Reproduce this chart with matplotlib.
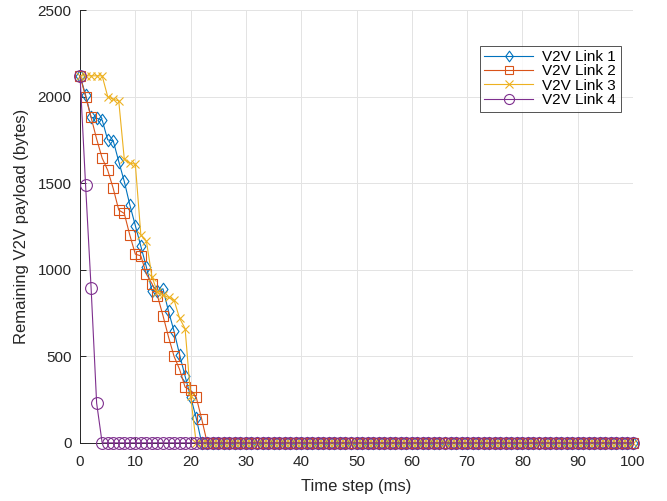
import numpy as np
import matplotlib
matplotlib.use("Agg")
import matplotlib.pyplot as plt
from matplotlib.path import Path

plt.rcParams['font.family'] = ['Liberation Sans', 'DejaVu Sans']

# Time axis (ms) and remaining payload per V2V link (bytes)
time_steps = list(range(0, 101))

link1_head = [2120, 2010, 1880, 1875, 1865, 1750, 1745, 1625, 1510, 1375,
              1255, 1135, 1015, 880, 875, 890, 760, 645, 510, 385,
              265, 145]
link2_head = [2120, 2000, 1880, 1755, 1645, 1575, 1470, 1345, 1325, 1200,
              1090, 1080, 975, 920, 850, 735, 612, 500, 425, 322,
              303, 265, 138]
link3_head = [2120, 2120, 2120, 2120, 2120, 2000, 1985, 1975, 1640, 1615,
              1610, 1200, 1165, 960, 870, 855, 840, 825, 720, 660,
              270]
link4_head = [2120, 1490, 895, 230]

def pad(head, n=101):
    return head + [0] * (n - len(head))

link1 = pad(link1_head)
link2 = pad(link2_head)
link3 = pad(link3_head)
link4 = pad(link4_head)

# Slightly narrow diamond, like the classic MATLAB marker
diamond = Path([(0, 1), (0.72, 0), (0, -1), (-0.72, 0), (0, 1)],
               [Path.MOVETO, Path.LINETO, Path.LINETO, Path.LINETO, Path.CLOSEPOLY])

series = [
    ("V2V Link 1", link1, "#0072BD", diamond, 9),
    ("V2V Link 2", link2, "#D95319", "s", 7),
    ("V2V Link 3", link3, "#EDB120", "x", 6),
    ("V2V Link 4", link4, "#7E2F8E", "o", 8.5),
]

fig = plt.figure(figsize=(6.67, 5.01), dpi=100)
ax = fig.add_axes([0.12, 0.116, 0.829, 0.864])

for name, vals, col, mk, ms in series:
    ax.plot(time_steps, vals, color=col, marker=mk, markersize=ms,
            markerfacecolor='none', markeredgecolor=col, markeredgewidth=0.8,
            linewidth=0.8, label=name, clip_on=False, zorder=3)

ax.set_xlim(0, 100)
ax.set_ylim(0, 2500)
ax.set_xticks(np.arange(0, 101, 10))
ax.set_yticks(np.arange(0, 2501, 500))
ax.grid(True, color='#e3e3e3', linewidth=0.7)
ax.set_axisbelow(True)
ax.spines['top'].set_visible(False)
ax.spines['right'].set_visible(False)
for side in ('left', 'bottom'):
    ax.spines[side].set_color('#262626')
    ax.spines[side].set_linewidth(0.7)
ax.tick_params(direction='in', length=4, width=0.7, colors='#262626',
               labelsize=11, top=False, right=False)
ax.tick_params(axis='x', pad=9)
ax.tick_params(axis='y', pad=6)

ax.set_xlabel("Time step (ms)", fontsize=12, color='#262626', labelpad=7)
ax.set_ylabel("Remaining V2V payload (bytes)", fontsize=12, color='#262626', labelpad=6)

leg = ax.legend(loc='upper right', bbox_to_anchor=(0.978, 0.918), fontsize=11,
                frameon=True, fancybox=False, handlelength=3.2,
                borderpad=0.3, labelspacing=0.02, handletextpad=0.6,
                borderaxespad=0.0, markerscale=0.85)
leg.get_frame().set_edgecolor('#262626')
leg.get_frame().set_linewidth(0.7)
leg.set_zorder(5)

fig.savefig("out.png", dpi=100)
